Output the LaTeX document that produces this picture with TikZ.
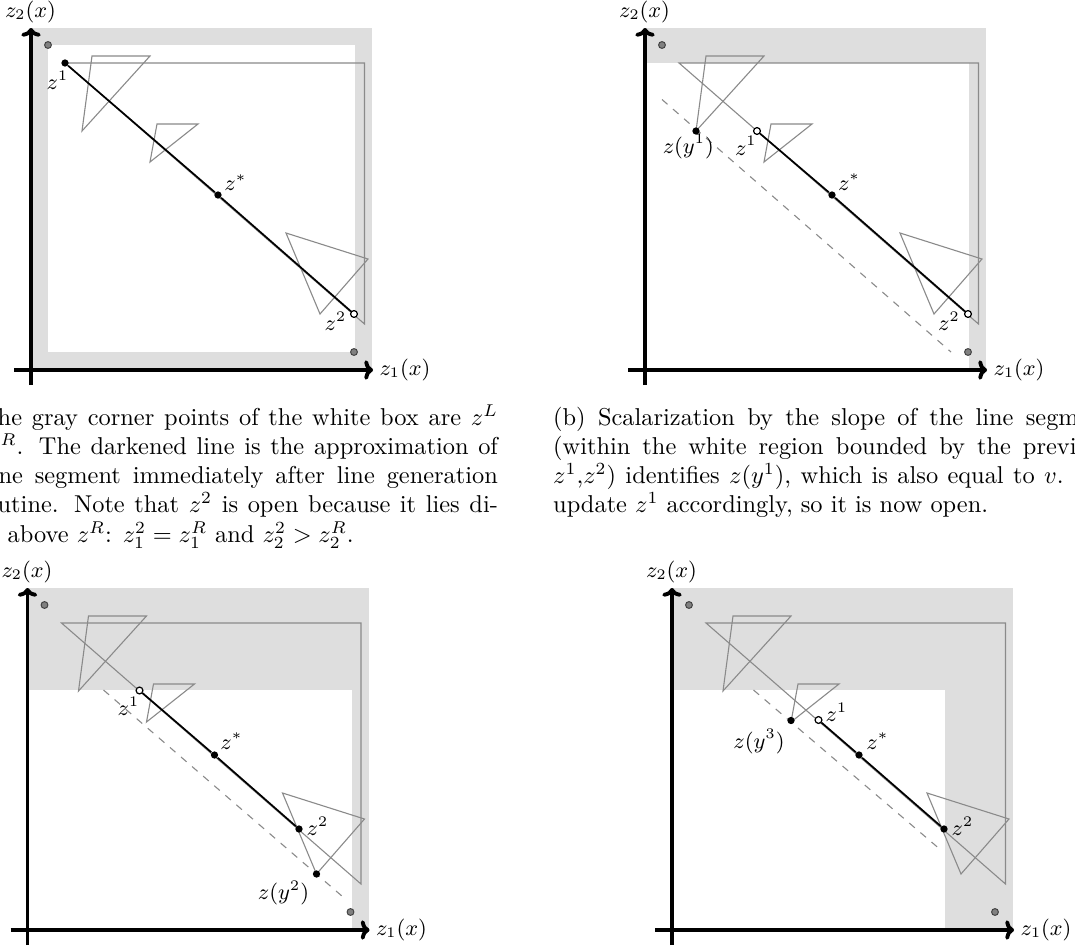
\documentclass[tikz,border=0pt]{standalone}
\usetikzlibrary{arrows.meta}
\definecolor{fillgray}{HTML}{DEDEDE}
\definecolor{linegray}{HTML}{8A8A8A}
\definecolor{dotgray}{HTML}{808080}
\tikzset{
  axisln/.style={line width=1.6pt, -{To[length=3.6pt,width=8pt]}},
  tri/.style={draw=linegray, line width=0.45pt, line join=miter},
  seg/.style={draw=black, line width=0.7pt},
  dashln/.style={draw=linegray, line width=0.45pt, dash pattern=on 3pt off 3pt},
  blackpt/.style={circle, fill=black, inner sep=0pt, minimum size=3pt},
  openpt/.style={circle, draw=black, fill=white, line width=0.5pt, inner sep=0pt, minimum size=2.8pt},
  graypt/.style={circle, draw=black!75, fill=dotgray, line width=0.4pt, inner sep=0pt, minimum size=2.8pt},
  lab/.style={inner sep=0pt, font=\fontsize{8.6}{10}\selectfont},
  captxt/.style={anchor=base west, inner sep=0pt},
}
\newcommand\panelparts[1]{%
  \draw[tri] (92,56) -- (150,56) -- (82,131) -- cycle;
  \draw[tri] (157,124) -- (198,124) -- (150,162) -- cycle;
  \draw[tri] (286,233) -- (368,259) -- (320,314) -- cycle;
  \draw[tri] (65,63) -- (364.5,63) -- (364.5,324) -- cycle;
  \node[graypt] (#1L) at (48,45) {};
  \node[graypt] (#1R) at (354,352) {};
}
\newcommand\panelaxes[1]{%
  \coordinate (#1yb) at (31,385);
  \coordinate (#1yt) at (31,28);
  \coordinate (#1xl) at (14,370);
  \coordinate (#1xr) at (373,370);
  \draw[axisln] (#1yb) -- (#1yt);
  \draw[axisln] (#1xl) -- (#1xr);
  \node[lab] (#1ylab) at (30.5,12) {$z_2(x)$};
  \node[lab] (#1xlab) at (405,370) {$z_1(x)$};
}
\begin{document}
\begin{tikzpicture}[x=0.41pt,y=-0.41pt]
\useasboundingbox (0,0) rectangle (1075,949);
\clip (0,0) rectangle (1075,949);

% ---------- panel (a)
\begin{scope}
  \fill[fillgray] (31,28) rectangle (372,370);
  \fill[white] (48,45) rectangle (355,352);
  \panelparts{a}
  \node[blackpt] (a1) at (65,63) {};
  \node[blackpt] (as) at (218,195) {};
  \node[openpt] (a2) at (354,314) {};
  \draw[seg] (a1) -- (as) -- (a2);
  \node[lab] (a1lab) at (57.5,80) {$z^1$};
  \node[lab] (aslab) at (235.5,182.5) {$z^*$};
  \node[lab] (a2lab) at (335.5,321.5) {$z^2$};
  \panelaxes{a}
\end{scope}

% ---------- panel (b)
\begin{scope}[shift={(614,0)}]
  \fill[fillgray] (31,28) rectangle (372,370);
  \fill[white] (31,63) rectangle (354.5,370);
  \coordinate (bd1) at (48,99.5);
  \coordinate (bd2) at (337,352);
  \draw[dashln] (bd1) -- (bd2);
  \panelparts{b}
  \node[blackpt] (by1) at (82,131) {};
  \node[openpt] (b1) at (143,131) {};
  \node[blackpt] (bs) at (218,195) {};
  \node[openpt] (b2) at (354,314) {};
  \draw[seg] (b1) -- (bs) -- (b2);
  \node[lab] (by1lab) at (74.3,146.5) {$z(y^1)$};
  \node[lab] (b1lab) at (131.8,145.8) {$z^1$};
  \node[lab] (bslab) at (235,182) {$z^*$};
  \node[lab] (b2lab) at (335,321.5) {$z^2$};
  \panelaxes{b}
\end{scope}

% ---------- panel (c)
\begin{scope}[shift={(-3.5,560)}]
  \fill[fillgray] (31,28) rectangle (372,370);
  \fill[white] (31,130) rectangle (355,370);
  \coordinate (cd1) at (107,130);
  \coordinate (cd2) at (350,340);
  \draw[dashln] (cd1) -- (cd2);
  \panelparts{c}
  \node[blackpt] (cy2) at (320,314) {};
  \node[openpt] (c1) at (143,130.5) {};
  \node[blackpt] (cs) at (218,195) {};
  \node[blackpt] (c2) at (302.5,269) {};
  \draw[seg] (c1) -- (cs) -- (c2);
  \node[lab] (c1lab) at (132,146.5) {$z^1$};
  \node[lab] (cslab) at (235,181) {$z^*$};
  \node[lab] (c2lab) at (321,266.5) {$z^2$};
  \node[lab] (cy2lab) at (287,333) {$z(y^2)$};
  \panelaxes{c}
\end{scope}

% ---------- panel (d)
\begin{scope}[shift={(641,560)}]
  \fill[fillgray] (31,28) rectangle (372,370);
  \fill[white] (31,130) rectangle (304,370);
  \coordinate (dd1) at (112.5,130);
  \coordinate (dd2) at (301,291);
  \draw[dashln] (dd1) -- (dd2);
  \panelparts{d}
  \node[blackpt] (dy3) at (150,160.5) {};
  \node[openpt] (d1) at (177.5,160) {};
  \node[blackpt] (ds) at (218,195) {};
  \node[blackpt] (d2) at (303,269) {};
  \draw[seg] (d1) -- (ds) -- (d2);
  \node[lab] (d1lab) at (195.5,152) {$z^1$};
  \node[lab] (dslab) at (236.5,181) {$z^*$};
  \node[lab] (d2lab) at (321.5,266.5) {$z^2$};
  \node[lab] (dy3lab) at (118,181.5) {$z(y^3)$};
  \panelaxes{d}
\end{scope}

% ---------- captions
\node[captxt] (capa) at (-61.3,425) {\parbox[t]{229.1pt}{\phantom{(a)} \phantom{T}he gray corner points of the white box are $z^L$\linebreak
\phantom{and} $\phantom{z}^R$. The darkened line is the approximation of\linebreak
\phantom{the} \phantom{li}ne segment immediately after line generation\linebreak
\phantom{subro}utine. Note that $z^2$ is open because it lies di-\linebreak
\phantom{rectly} above $z^R$: $z^2_1 = z^R_1$ and $z^2_2 > z^R_2$.}};
\node[captxt] (capb) at (552.7,425) {\parbox[t]{229.1pt}{(b) Scalarization by the slope of the line segm\phantom{ent}\linebreak
(within the white region bounded by the previ\phantom{ous}\linebreak
$z^1$,$z^2$) identifies $z(y^1)$, which is also equal to $v$. \phantom{We}\linebreak
update $z^1$ accordingly, so it is now open.}};
\end{tikzpicture}
\end{document}
